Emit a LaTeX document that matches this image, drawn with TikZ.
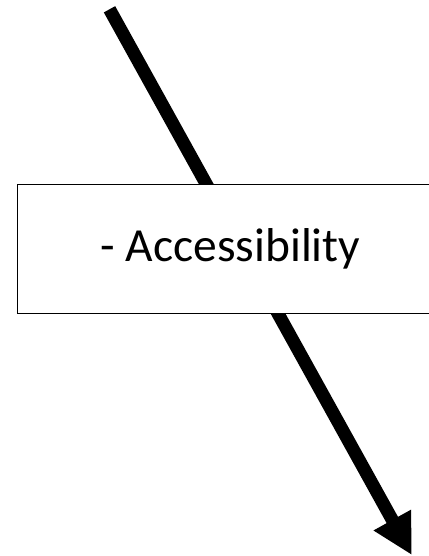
\documentclass[tikz,border=0pt]{standalone}
\usepackage{fontspec}
\setmainfont{Carlito}
\usetikzlibrary{arrows.meta}

\begin{document}
\begin{tikzpicture}[x=1pt, y=-1pt,
  label box/.style={draw, line width=1pt, fill=white, minimum width=427pt, minimum height=129pt, inner sep=0pt, font=\fontsize{47.5}{47.5}\selectfont},
  arrow/.style={-{Triangle[length=40pt,width=40pt]}, line width=13pt}
]
\useasboundingbox (0,0) rectangle (428,556);
\coordinate (start) at (109.5,9.3);
\coordinate (end) at (411.7,555);
\draw[arrow] (start) -- (end);
\node[label box] (access) at (230.5,249) {- Accessibility};
\end{tikzpicture}
\end{document}
